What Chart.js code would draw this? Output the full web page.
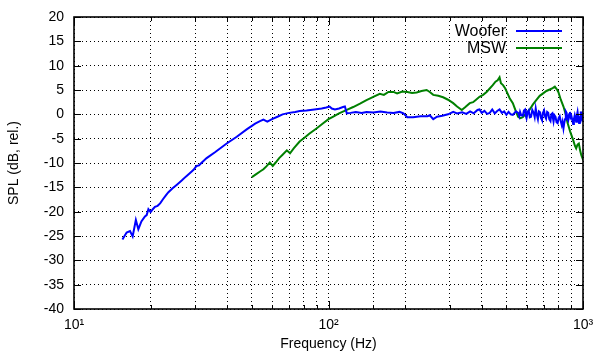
<!DOCTYPE html>
<html>
<head>
<meta charset="utf-8">
<script src="https://cdn.jsdelivr.net/npm/chart.js@4"></script>
<style>
  html, body { margin: 0; padding: 0; background: #fff; }
  #wrap { width: 596px; height: 361px; }
</style>
</head>
<body>
<div id="wrap"><canvas id="spl"></canvas></div>
<script>
// Woofer response (Hz, dB)
const wooferFreq = [15.5, 16.1, 16.6, 17.0, 17.5, 17.9, 18.4, 19.0, 19.3, 19.6, 20.0, 20.4, 20.8, 21.3, 21.8, 22.4, 23.0, 23.5, 24.4, 25.3, 26.5, 27.5, 28.5, 29.5, 30.3, 31.0, 31.5, 33.2, 35.8, 39.8, 43.6, 47.7, 51.5, 53.8, 55.5, 57.5, 60, 63, 66, 70, 74, 77, 82, 88, 94, 98, 101, 103, 106, 110, 114, 116, 118, 122, 128, 135, 141, 150, 160, 170, 180, 190, 197, 204, 215, 230, 245, 250, 258, 267, 280, 295, 309, 320, 335, 348, 360, 372, 385, 392, 400, 410, 420, 430, 440, 450, 460, 470, 480, 490, 500, 510, 520, 530, 545,
  556, 562, 566, 572, 580, 586, 592, 596, 600, 606, 612, 618, 625, 632, 640, 646, 652, 658, 665, 671, 678, 684, 690, 696, 703, 710, 716, 723, 730, 737, 745, 751, 758, 762, 766, 773, 780, 787, 795, 802, 810, 817, 825, 831, 838, 844, 850, 856, 862, 868, 875, 882, 889, 894, 900, 908, 915, 921, 928, 934, 940, 946, 952, 958, 965, 970, 975, 980, 985, 992, 1000];
const wooferSpl = [-25.7, -24.3, -24.0, -25.1, -21.7, -23.6, -22.0, -21.0, -20.7, -19.5, -20.1, -19.5, -19.0, -18.8, -18.3, -17.4, -16.6, -16.0, -15.2, -14.5, -13.6, -12.8, -12.1, -11.4, -10.6, -10.5, -10.1, -9.0, -7.8, -6.0, -4.6, -3.1, -1.9, -1.4, -1.1, -1.5, -1.0, -0.5, 0.0, 0.3, 0.5, 0.7, 0.8, 1.0, 1.2, 1.4, 1.6, 1.2, 1.0, 1.2, 1.5, 1.6, 0.2, 0.3, 0.5, 0.3, 0.5, 0.4, 0.6, 0.4, 0.3, 0.5, 0.2, -0.6, -0.6, -0.4, -0.4, -0.2, -1.0, -0.5, -0.3, 0.0, 0.5, 0.2, 0.4, 0.1, 0.6, 0.2, 0.9, 1.0, 0.3, 0.7, 0.1, 0.3, 1.0, 0.2, 0.7, 1.0, 0.3, 0.6, -0.1, 0.5, 0.0, -0.1, 0.6,
  0.3, -0.4, 0.5, -0.2, -0.3, 0.8, 1.0, -0.3, -0.8, 0.4, 0.8, -0.6, -0.5, 0.9, 0.3, -0.6, 1.2, 0.0, -1.0, 0.6, 0.4, -0.8, -1.2, 0.3, 0.8, -0.5, -0.9, 0.5, 0.3, -1.0, -1.4, 0.0, 0.2, -0.8, -1.5, -0.2, -0.5, -1.6, -1.8, -0.8, -0.4, -1.3, -2.2, -1.5, -2.9, -1.8, -1.0, 0.6, 0.3, -0.8, -1.2, 0.0, 0.5, -0.6, -0.3, -1.2, -2.0, -1.0, -0.2, -0.9, -1.5, -0.2, 0.5, -0.6, -1.8, -0.9, -0.5, 0.6, -0.8, -0.2, -1.5];

// MSW response (Hz, dB)
const mswFreq = [50, 52, 54, 55.5, 57, 58.8, 60.4, 62, 64, 66, 68.6, 70.6, 73, 77, 80, 84, 89.7, 95, 100, 104, 110, 118, 125, 133, 141, 150, 159, 165, 172, 180, 186, 195, 204, 213, 222, 232, 243, 250, 258, 270, 282, 295, 309, 320, 334, 345, 359, 370, 380, 392, 405, 418, 430, 442, 453, 462, 470, 476, 485, 495, 505, 515, 530, 543, 556, 568, 580, 598, 616, 635, 655, 676, 697, 718, 740, 760, 775, 788, 800, 818, 838, 855, 870, 890, 915, 930, 940, 952, 963, 975, 985, 995, 1000];
const mswSpl = [-12.9, -12.3, -11.7, -11.3, -10.7, -9.9, -10.6, -9.9, -9.0, -8.3, -7.4, -8.0, -7.0, -5.6, -4.9, -4.0, -2.9, -1.9, -1.0, -0.5, 0.2, 0.9, 1.5, 2.2, 2.9, 3.6, 4.2, 4.0, 4.6, 4.6, 4.3, 4.7, 4.6, 4.4, 4.5, 4.8, 5.0, 4.6, 4.0, 3.8, 3.5, 3.0, 2.3, 1.6, 0.9, 1.5, 2.3, 2.5, 3.0, 3.6, 4.0, 4.6, 5.3, 6.0, 6.7, 7.0, 7.6, 6.4, 6.0, 5.3, 4.3, 3.3, 2.3, 0.8, -0.5, -0.8, -0.6, 0.2, 0.9, 2.0, 2.9, 3.8, 4.3, 4.8, 5.1, 5.4, 5.7, 5.2, 4.6, 3.0, 1.6, 0.0, -1.8, -3.5, -5.3, -6.5, -7.0, -6.2, -6.0, -7.5, -8.4, -9.0, -8.6];

const xMin = 10, xMax = 1000;
const yMin = -40, yMax = 20, yStep = 5;
const supDigits = { 1: '\u00b9', 2: '\u00b2', 3: '\u00b3' };
const FONT = '"Liberation Sans", Arial, sans-serif';

const toPoints = (fs, vs) => fs.map((f, i) => ({ x: f, y: vs[i] }));

const isDecade = v => Math.abs(Math.log10(v) - Math.round(Math.log10(v))) < 1e-9;

// gnuplot style frame: solid border + inward ticks on all sides, legend with sample to the right
const frame = {
  id: 'frame',
  afterDraw(chart) {
    const { ctx, chartArea: a, scales } = chart;
    ctx.save();
    ctx.strokeStyle = '#000';
    ctx.lineWidth = 1;
    ctx.beginPath();
    scales.x.ticks.forEach(t => {
      const px = Math.round(scales.x.getPixelForValue(t.value)) + 0.5;
      const len = isDecade(t.value) ? 8 : 4;
      ctx.moveTo(px, a.bottom); ctx.lineTo(px, a.bottom - len);
      ctx.moveTo(px, a.top); ctx.lineTo(px, a.top + len);
    });
    scales.y.ticks.forEach(t => {
      const py = Math.round(scales.y.getPixelForValue(t.value)) + 0.5;
      ctx.moveTo(a.left, py); ctx.lineTo(a.left + 7, py);
      ctx.moveTo(a.right, py); ctx.lineTo(a.right - 7, py);
    });
    ctx.stroke();
    ctx.lineWidth = 1.6;
    ctx.strokeRect(a.left, a.top, a.right - a.left, a.bottom - a.top);

    // legend
    ctx.font = '16px ' + FONT;
    ctx.textAlign = 'right';
    ctx.textBaseline = 'middle';
    chart.data.datasets.forEach((ds, i) => {
      const y = a.top + 14 + i * 17;
      ctx.fillStyle = '#000';
      ctx.fillText(ds.label, a.right - 77, y + 1);
      ctx.strokeStyle = ds.borderColor;
      ctx.lineWidth = 2;
      ctx.beginPath();
      ctx.moveTo(a.right - 67, y); ctx.lineTo(a.right - 21, y);
      ctx.stroke();
    });
    ctx.restore();
  }
};

const gridStyle = {
  color: '#000',
  lineWidth: 1,
  drawTicks: false
};

new Chart(document.getElementById('spl'), {
  type: 'line',
  data: {
    datasets: [
      {
        label: 'Woofer',
        data: toPoints(wooferFreq, wooferSpl),
        borderColor: '#0000ff',
        borderWidth: 2,
        pointRadius: 0,
        tension: 0,
      },
      {
        label: 'MSW',
        data: toPoints(mswFreq, mswSpl),
        borderColor: '#008000',
        borderWidth: 2,
        pointRadius: 0,
        tension: 0,
      },
    ],
  },
  options: {
    responsive: true,
    maintainAspectRatio: false,
    animation: false,
    layout: { padding: { top: 17, right: 13, left: 0, bottom: 0 } },
    plugins: {
      legend: { display: false },
      tooltip: { enabled: false },
    },
    scales: {
      x: {
        type: 'logarithmic',
        min: xMin,
        max: xMax,
        afterFit: s => { s.height = 52; s.paddingLeft = 0; s.paddingRight = 0; },
        border: { display: false, dash: [1, 3] },
        grid: gridStyle,
        ticks: {
          autoSkip: false,
          maxRotation: 0,
          padding: 8,
          color: '#000',
          font: { family: FONT, size: 14 },
          callback: v => isDecade(v) ? '10' + supDigits[Math.round(Math.log10(v))] : '',
        },
        title: {
          display: true,
          text: 'Frequency (Hz)',
          color: '#000',
          font: { family: FONT, size: 14 },
          padding: { top: 0, bottom: 8 },
        },
      },
      y: {
        min: yMin,
        max: yMax,
        afterFit: s => { s.width = 74; s.paddingTop = 0; s.paddingBottom = 0; },
        border: { display: false, dash: [1, 3] },
        grid: gridStyle,
        ticks: {
          stepSize: yStep,
          padding: 10,
          color: '#000',
          font: { family: FONT, size: 14 },
        },
        title: {
          display: true,
          text: 'SPL (dB, rel.)',
          color: '#000',
          font: { family: FONT, size: 14 },
          padding: { top: 6, bottom: 0 },
        },
      },
    },
  },
  plugins: [frame],
});
</script>
</body>
</html>
